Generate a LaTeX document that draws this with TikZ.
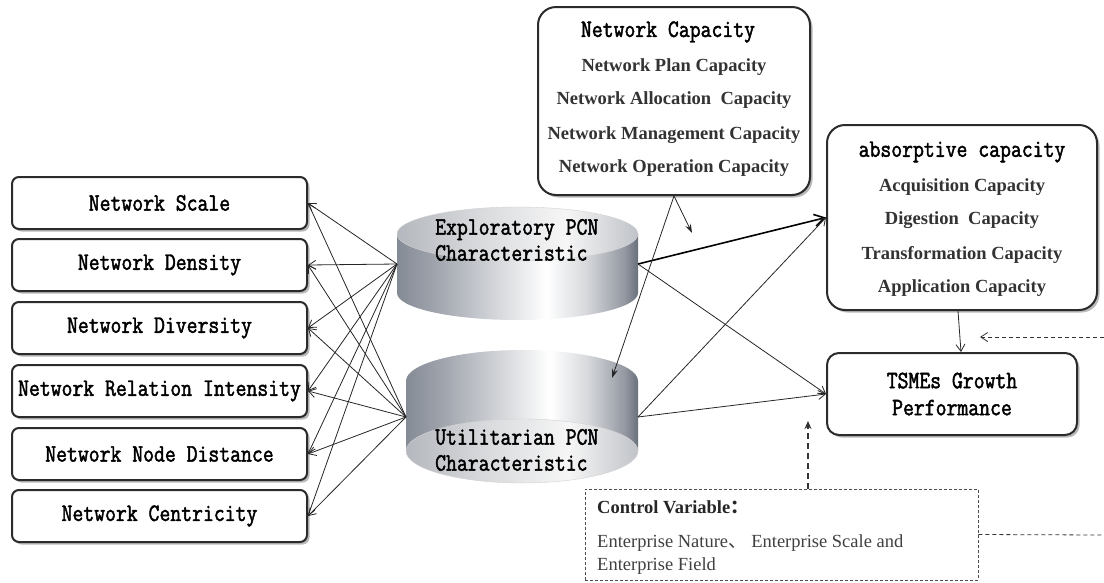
\documentclass[tikz,border=0pt]{standalone}
\usepackage{fontspec}
\setmainfont{Liberation Serif}
\newfontfamily\monofont[FakeStretch=0.845,FakeBold=1.8]{Latin Modern Mono}
\newfontfamily\cjk{Noto Sans CJK SC}
\usetikzlibrary{arrows.meta,shadows,calc}

\definecolor{edge}{HTML}{2B2B2B}
\definecolor{itemgray}{HTML}{333333}
\definecolor{cA1}{HTML}{858B95}
\definecolor{cA2}{HTML}{9CA1AA}
\definecolor{cA3}{HTML}{D8DADD}
\definecolor{cA4}{HTML}{959AA3}
\definecolor{cA5}{HTML}{6A707C}
\definecolor{cT1}{HTML}{B4B7BD}
\definecolor{cT2}{HTML}{D4D6D9}
\definecolor{cT3}{HTML}{F6F6F6}
\definecolor{cT4}{HTML}{C0C3C8}

% side of a cylinder: dark rims, bright band right of the middle
\pgfdeclarehorizontalshading{cylside}{100bp}{color(0bp)=(cA1); color(25bp)=(cA1); color(32bp)=(cA2); color(56bp)=(white); color(64bp)=(cA3); color(72bp)=(cA4); color(75bp)=(cA5); color(100bp)=(cA5)}
% flat face of a cylinder
\pgfdeclarehorizontalshading{cylface}{100bp}{color(0bp)=(cT1); color(25bp)=(cT1); color(40bp)=(cT2); color(60bp)=(cT3); color(75bp)=(cT4); color(100bp)=(cT4)}

\tikzset{
  boxshadow/.style={drop shadow={shadow xshift=2.5pt,shadow yshift=-2.5pt,fill=black!55,opacity=0.5}},
  lbox/.style={draw=edge,line width=2pt,rounded corners=7pt,fill=white,
    minimum width=295pt,minimum height=52pt,inner sep=0pt,boxshadow,
    font=\monofont\fontsize{25}{27}\selectfont},
  bigbox/.style={draw=edge,line width=2pt,rounded corners=18pt,fill=white,
    inner sep=0pt,boxshadow},
  headtext/.style={inner sep=0pt,font=\monofont\fontsize{25}{27}\selectfont},
  itemtext/.style={inner sep=0pt,text=itemgray,font=\bfseries\fontsize{18.5}{22}\selectfont},
  cyltext/.style={inner sep=0pt,align=left,font=\monofont\fontsize{25}{26}\selectfont},
  ctrlbox/.style={draw=black!70,line width=0.8pt,dash pattern=on 3pt off 2pt,inner sep=0pt},
  ctrltext/.style={inner sep=0pt,anchor=base west,text=black!75,font=\fontsize{18.5}{22}\selectfont},
  link/.style={draw=black!85,line width=0.8pt,-{Straight Barb[length=7pt,width=9pt]}},
  strong/.style={draw=black,line width=1.6pt,-{Straight Barb[length=10pt,width=12pt]}},
  modlink/.style={draw=black!85,line width=0.8pt,-{Stealth[length=9pt,width=6pt]}},
  dashlink/.style={draw=black!80,line width=0.8pt,dash pattern=on 4pt off 3pt},
  updash/.style={draw=black!80,line width=1.6pt,dash pattern=on 6pt off 4pt,-{Stealth[length=8pt,width=7pt]}}
}

\begin{document}
\begin{tikzpicture}[x=1pt,y=-1pt]
\useasboundingbox (0,0) rectangle (1104,582);

% network characteristics on the left
\node[lbox] (ns)   at (159.5,203) {Network Scale};
\node[lbox] (nd)   at (159.5,265) {Network Density};
\node[lbox] (ndiv) at (159.5,328) {Network Diversity};
\node[lbox] (nri)  at (159.5,391) {Network Relation Intensity};
\node[lbox] (nnd)  at (159.5,454) {Network Node Distance};
\node[lbox] (nc)   at (159.5,516) {Network Centricity};

% exploratory cylinder (seen from above); y axis points down, so the
% arc through 90 degrees bulges downwards
\shade[shading=cylside] (397,234) -- (397,293)
  arc[start angle=180,end angle=0,x radius=120.5,y radius=27] -- (638,234) -- cycle;
\shade[shading=cylface,draw=gray!35,line width=0.4pt] (517.5,234) ellipse[x radius=120.5,y radius=27];
\node[cyltext,anchor=west] (exptxt) at (435,240) {Exploratory PCN\\Characteristic};

% utilitarian cylinder (seen from below)
\shade[shading=cylside] (406,381)
  arc[start angle=180,end angle=360,x radius=116,y radius=31] -- (638,451) -- (406,451) -- cycle;
\shade[shading=cylface,draw=gray!35,line width=0.4pt] (522,451) ellipse[x radius=116,y radius=32];
\node[cyltext,anchor=west] (utitxt) at (435,450) {Utilitarian PCN\\Characteristic};

\coordinate (expL) at (397,264);
\coordinate (expR) at (638,264);
\coordinate (utiL) at (406,417);
\coordinate (utiR) at (638,417);

% network capacity
\node[bigbox,minimum width=272pt,minimum height=188pt] (netcap) at (674,101) {};
\node[headtext] (nct) at (668,32) {Network Capacity};
\node[itemtext] (nc1) at (674,67) {Network Plan Capacity};
\node[itemtext] (nc2) at (674,100) {Network Allocation~ Capacity};
\node[itemtext] (nc3) at (674,135) {Network Management Capacity};
\node[itemtext] (nc4) at (674,168) {Network Operation Capacity};

% absorptive capacity
\node[bigbox,minimum width=270pt,minimum height=185pt] (absorb) at (962,217.5) {};
\node[headtext] (abt) at (962,152) {absorptive capacity};
\node[itemtext] (ab1) at (962,187) {Acquisition Capacity};
\node[itemtext] (ab2) at (962,220) {Digestion~ Capacity};
\node[itemtext] (ab3) at (962,255) {Transformation Capacity};
\node[itemtext] (ab4) at (962,288) {Application Capacity};

% growth performance
\node[bigbox,rounded corners=12pt,minimum width=250pt,minimum height=82pt,
      align=center,font=\monofont\fontsize{25}{27}\selectfont] (tsme) at (952,394)
      {TSMEs Growth\\Performance};

% control variables
\node[ctrlbox,minimum width=393pt,minimum height=91pt] (ctrl) at (781.5,534.5) {};
\node[ctrltext,text=black!85,font=\bfseries\fontsize{18.5}{22}\selectfont] (ctl0) at (597,513) {Control Variable{\cjk ：}};
\node[ctrltext] (ctl1) at (597,547) {Enterprise Nature{\cjk 、} Enterprise Scale and};
\node[ctrltext] (ctl2) at (597,570) {Enterprise Field};

% links from the two PCN characteristics to the network features
\foreach \t in {ns,nd,ndiv,nri,nnd,nc}{
  \draw[link] (expL) -- (\t.east);
  \draw[link] (utiL) -- (\t.east);
}

% main paths
\draw[strong] (expR) -- (absorb.west);
\draw[link] (utiR) -- (absorb.west);
\draw[link] (expR) -- (tsme.west);
\draw[link] (utiR) -- (tsme.west);
\draw[link] ($(absorb.south)+(-4,0)$) -- ($(tsme.north)+(9,0)$);

% moderating effect of network capacity
\coordinate (modA) at (692,233);
\coordinate (modB) at (612,378);
\draw[modlink] (netcap.south) -- (modA);
\draw[modlink] (netcap.south) -- (modB);

% control variable connections
\coordinate (rtop) at (1104,337);
\coordinate (rin) at (980,337);
\coordinate (rbot) at (1104,535);
\coordinate (cup) at (808,421);
\draw[dashlink,-{Straight Barb[length=7pt,width=9pt]}] (rtop) -- (rin);
\draw[dashlink] (ctrl.east) -- (rbot);
\draw[updash] ($(ctrl.north)+(26.5,0)$) -- (cup);
\end{tikzpicture}
\end{document}
